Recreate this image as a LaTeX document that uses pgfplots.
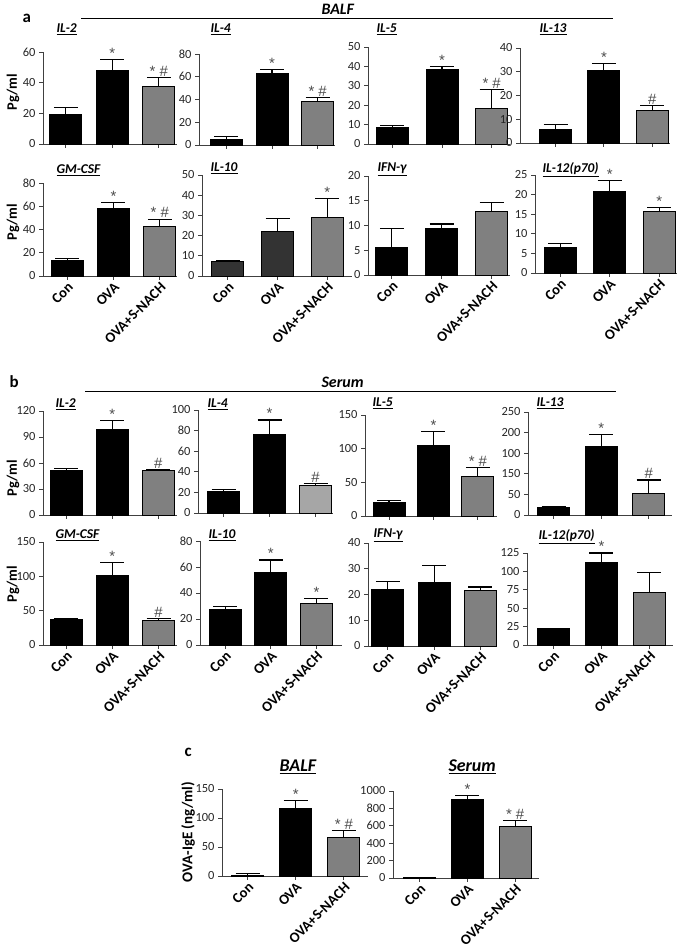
\documentclass[border=0pt]{standalone}
\usepackage{fontspec}
\setmainfont{Carlito}
\newfontfamily\starfont{Liberation Sans}
\usepackage{pgfplots}
\pgfplotsset{compat=1.18}
\definecolor{gy}{HTML}{808080}
\definecolor{lg}{HTML}{A6A6A6}
\definecolor{dk}{HTML}{333333}
\tikzset{ann/.style={anchor=south, inner sep=1bp, font=\starfont\fontsize{15}{15}\selectfont, text=black!70}}
\pgfplotsset{
 pan/.style={scale only axis, anchor=south west, ymin=0, axis x line*=bottom, axis y line*=left,
   axis line style={black!75, line width=0.9bp}, tick style={black!75, line width=0.9bp},
   tick align=outside, major tick length=4bp, xtick={0,1,2}, clip=false,
   tick label style={font=\fontsize{12.5}{14}\selectfont, text=black!85},
   /pgf/number format/assume math mode=true, /pgf/number format/1000 sep={},
   xticklabels={}, enlargelimits=false},
 lab/.style={xticklabels={Con,OVA,OVA+S-NACH}, xticklabel style={rotate=45, anchor=north east,
   font=\bfseries\fontsize{14.5}{16}\selectfont, inner sep=1bp, text=black}},
 bb/.style={ybar, bar shift=0pt, bar width=32bp, fill=#1, draw=black, line width=0.9bp,
   error bars/.cd, y dir=plus, y explicit,
   error bar style={line width=1.1bp, black},
   error mark options={rotate=90, line width=1.1bp, mark size=12bp, black}},
}
\newcommand{\B}[4]{\addplot[bb=#4] coordinates {(#1,#2) +- (0,#3)};}
\newcommand{\A}[3]{\node[ann] at (axis cs:#1,#2) {#3};}
\newcommand{\T}[3]{\node[anchor=base west, font=\bfseries\itshape\fontsize{13.5}{15}\selectfont] at (#1,944-#2) {\underline{#3}};}
\newcommand{\YL}[3]{\node[rotate=90, font=\bfseries\fontsize{#3}{16}\selectfont] at (#1,944-#2) {Pg/ml};}
\begin{document}
\begin{tikzpicture}[x=1bp,y=1bp]
\useasboundingbox (0,0) rectangle (685,944);
% ===== headers
\node[anchor=base west, font=\bfseries\fontsize{17}{18}\selectfont] at (19,944-23) {a};
\draw[line width=0.8bp] (81,944-18) -- (613,944-18);
\node[anchor=base west, font=\bfseries\itshape\fontsize{16}{18}\selectfont] at (318,944-15) {BALF};
\node[anchor=base west, font=\bfseries\fontsize{17}{18}\selectfont] at (6,944-388) {b};
\draw[line width=0.8bp] (85,944-391) -- (616,944-391);
\node[anchor=base west, font=\bfseries\itshape\fontsize{16}{18}\selectfont] at (318,944-388) {Serum};
\node[anchor=base west, font=\bfseries\fontsize{17}{18}\selectfont] at (181,944-757) {c};
% y labels
\YL{13}{92}{14.5}
\YL{13}{222}{14.5}
\YL{13}{478}{14.5}
\YL{13}{584}{14.5}
\node[rotate=90, font=\bfseries\fontsize{15}{16}\selectfont] at (188,944-832) {OVA-IgE (ng/ml)};
% titles
\T{53}{33}{IL-2} \T{207}{33}{IL-4} \T{373}{33}{IL-5} \T{536}{33}{IL-13}
\T{53}{174}{GM-CSF} \T{207}{172}{IL-10} \T{374}{172}{IFN-γ} \T{539}{173}{IL-12(p70)}
\T{52}{408}{IL-2} \T{204}{408}{IL-4} \T{369}{407}{IL-5} \T{533}{407}{IL-13}
\T{52}{539}{GM-CSF} \T{205}{539}{IL-10} \T{370}{538}{IFN-γ} \T{535}{540}{IL-12(p70)}
\node[anchor=base west, font=\bfseries\itshape\fontsize{18}{20}\selectfont] at (276,944-772) {\underline{BALF}};
\node[anchor=base west, font=\bfseries\itshape\fontsize{18}{20}\selectfont] at (445,944-772) {\underline{Serum}};

% ===== a row 1
\begin{axis}[pan, at={(43bp,800bp)}, width=134bp, height=92bp, xmin=-0.49, xmax=2.39, ymax=60, ytick={0,20,40,60}]
\B{0}{19.4}{4.3}{black} \B{1}{47.7}{7.3}{black} \B{2}{37.8}{5.4}{gy}
\A{1}{55}{*} \A{2}{43.2}{* \#}
\end{axis}
\begin{axis}[pan, at={(199bp,799bp)}, width=136bp, height=91bp, xmin=-0.60, xmax=2.38, ymax=80, ytick={0,20,...,80}]
\B{0}{5.3}{2.3}{black} \B{1}{62.5}{3.5}{black} \B{2}{38.2}{3.8}{gy}
\A{1}{66}{*} \A{2}{42}{* \#}
\end{axis}
\begin{axis}[pan, at={(368bp,800bp)}, width=142bp, height=97bp, xmin=-0.49, xmax=2.37, ymax=50, ytick={0,10,...,50}]
\B{0}{8.4}{1.1}{black} \B{1}{38.4}{1.4}{black} \B{2}{18.3}{9.6}{gy}
\A{1}{39.8}{*} \A{2}{27.9}{* \#}
\end{axis}
\begin{axis}[pan, at={(520bp,801bp)}, width=150bp, height=95bp, xmin=-0.74, xmax=2.37, ymax=40, ytick={0,10,...,40}]
\B{0}{5.9}{1.8}{black} \B{1}{30.6}{2.8}{black} \B{2}{13.8}{1.9}{gy}
\A{1}{33.4}{*} \A{2}{15.7}{\#}
\end{axis}
% ===== a row 2
\begin{axis}[pan, lab, at={(43bp,668bp)}, width=134bp, height=93bp, xmin=-0.52, xmax=2.37, ymax=80, ytick={0,20,...,80}]
\B{0}{13.5}{1.8}{black} \B{1}{57.8}{5.5}{black} \B{2}{42.3}{6.6}{gy}
\A{1}{63.3}{*} \A{2}{48.9}{* \#}
\end{axis}
\begin{axis}[pan, lab, at={(202bp,668bp)}, width=150bp, height=101bp, xmin=-0.52, xmax=2.5, ymax=50, ytick={0,10,...,50}]
\B{0}{7.2}{0.3}{dk} \B{1}{21.9}{6.4}{dk} \B{2}{29.1}{9.4}{gy}
\A{2}{38.5}{*}
\end{axis}
\begin{axis}[pan, lab, at={(368bp,669bp)}, width=142bp, height=99bp, xmin=-0.48, xmax=2.37, ymax=20, ytick={0,5,...,20}]
\B{0}{5.5}{3.8}{black} \B{1}{9.3}{1.0}{black} \B{2}{12.75}{1.95}{gy}
\end{axis}
\begin{axis}[pan, lab, at={(535bp,671bp)}, width=142bp, height=98bp, xmin=-0.51, xmax=2.36, ymax=25, ytick={0,5,...,25}]
\B{0}{6.5}{1.0}{black} \B{1}{20.8}{2.7}{black} \B{2}{15.8}{0.9}{gy}
\A{1}{23.5}{*} \A{2}{16.7}{*}
\end{axis}
% ===== b row 1
\begin{axis}[pan, at={(43bp,429bp)}, width=134bp, height=104bp, xmin=-0.51, xmax=2.41, ymax=120, ytick={0,30,...,120}]
\B{0}{51.9}{1.9}{black} \B{1}{99.2}{9.6}{black} \B{2}{51.9}{0.8}{gy}
\A{1}{108.8}{*} \A{2}{52.7}{\#}
\end{axis}
\begin{axis}[pan, at={(198bp,431bp)}, width=135bp, height=103bp, xmin=-0.56, xmax=2.38, ymax=100, ytick={0,20,...,100}]
\B{0}{20.6}{2.0}{black} \B{1}{75.8}{14.5}{black} \B{2}{26.5}{1.9}{lg}
\A{1}{90.3}{*} \A{2}{28.4}{\#}
\end{axis}
\begin{axis}[pan, at={(365bp,428bp)}, width=132bp, height=101bp, xmin=-0.54, xmax=2.43, ymax=150, ytick={0,50,100,150}]
\B{0}{19.8}{3.0}{black} \B{1}{104.5}{20.5}{black} \B{2}{58.4}{13.9}{gy}
\A{1}{125}{*} \A{2}{72.3}{* \#}
\end{axis}
\begin{axis}[pan, at={(528bp,429bp)}, width=144bp, height=103bp, xmin=-0.54, xmax=2.49, ymax=250, ytick={0,50,...,250}, yticklabels={0,50,150,100,200,250}]
\B{0}{17.9}{1.6}{black} \B{1}{166}{30}{black} \B{2}{52}{33}{gy}
\A{1}{196}{*} \A{2}{85}{\#}
\end{axis}
% ===== b row 2
\begin{axis}[pan, lab, at={(43bp,299bp)}, width=134bp, height=103bp, xmin=-0.5, xmax=2.4, ymax=150, ytick={0,50,100,150}]
\B{0}{37.3}{0.9}{black} \B{1}{101.6}{17.9}{black} \B{2}{35.3}{2.9}{gy}
\A{1}{119.5}{*} \A{2}{38.2}{\#}
\end{axis}
\begin{axis}[pan, lab, at={(200bp,299bp)}, width=142bp, height=104bp, xmin=-0.55, xmax=2.56, ymax=80, ytick={0,20,...,80}]
\B{0}{27.4}{2.1}{black} \B{1}{55.6}{9.8}{black} \B{2}{32}{3.6}{gy}
\A{1}{65.4}{*} \A{2}{35.6}{*}
\end{axis}
\begin{axis}[pan, lab, at={(368bp,298bp)}, width=129bp, height=103bp, xmin=-0.43, xmax=2.36, ymax=40, ytick={0,10,...,40}]
\B{0}{22}{3.1}{black} \B{1}{24.6}{6.7}{black} \B{2}{21.7}{1.2}{gy}
\end{axis}
\begin{axis}[pan, lab, at={(527bp,299bp)}, width=146bp, height=92bp, xmin=-0.55, xmax=2.49, ymax=125, ytick={0,25,...,125}]
\B{0}{21.8}{0.9}{black} \B{1}{112.7}{12.3}{black} \B{2}{70.9}{28.1}{gy}
\A{1}{125}{*}
\end{axis}
% ===== c
\begin{axis}[pan, lab, at={(222bp,68bp)}, width=146bp, height=87bp, xmin=-0.53, xmax=2.5, ymax=150, ytick={0,50,100,150}]
\B{0}{1.7}{2.9}{black} \B{1}{116.5}{13.5}{black} \B{2}{66.4}{11.6}{gy}
\A{1}{130}{*} \A{2}{78}{* \#}
\end{axis}
\begin{axis}[pan, lab, at={(393bp,66bp)}, width=146bp, height=87bp, xmin=-0.56, xmax=2.5, ymax=1000, ytick={0,200,...,1000}]
\B{0}{3}{2}{black} \B{1}{901}{46}{black} \B{2}{597}{61}{gy}
\A{1}{947}{*} \A{2}{658}{* \#}
\end{axis}
\end{tikzpicture}
\end{document}
